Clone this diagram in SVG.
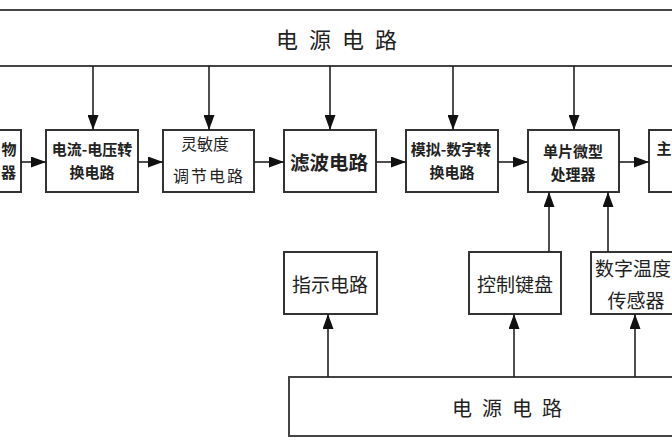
<svg xmlns="http://www.w3.org/2000/svg" width="672" height="448" viewBox="0 0 672 448">
<defs>
<marker id="ah" viewBox="0 0 15 11" refX="15" refY="5.5" markerWidth="15" markerHeight="11" markerUnits="userSpaceOnUse" orient="auto">
<path d="M0,0 L15,5.5 L0,11 z" fill="#111"/>
</marker>
<style>
.box{fill:#fff;stroke:#333;stroke-width:2}
.bar{fill:#fff;stroke:#444;stroke-width:2}
.t{font-family:"Noto Sans CJK SC","Noto Sans",sans-serif;fill:#222;text-anchor:middle;dominant-baseline:central}
.sm{font-size:15px;font-weight:bold}
.md{font-size:19px}
.bd{font-size:19.5px;font-weight:bold}
.lt{font-size:16px}
.big{font-size:22px;letter-spacing:11px}
.conn line{stroke:#222;stroke-width:1.6;marker-end:url(#ah)}
</style>
</defs>
<rect width="672" height="448" fill="#fff"/>

<g id="power-top">
<rect class="bar" x="-5" y="10" width="682" height="56"/>
<text class="t big" x="342" y="38">电源电路</text>
</g>

<g id="sensor-left">
<rect class="box" x="-20" y="130" width="41" height="62"/>
<text class="t sm" x="9" y="148">物</text>
<text class="t sm" x="8.5" y="171">器</text>
</g>

<g id="iv-convert">
<rect class="box" x="46" y="130" width="92" height="62"/>
<text class="t sm" x="92" y="148">电流-电压转</text>
<text class="t sm" x="92" y="171">换电路</text>
</g>

<g id="sensitivity">
<rect class="box" x="163" y="130" width="91" height="62"/>
<text class="t lt" x="205" y="143">灵敏度</text>
<text class="t lt" x="209" y="175" style="letter-spacing:2px">调节电路</text>
</g>

<g id="filter">
<rect class="box" x="284" y="130" width="92" height="62"/>
<text class="t bd" x="329" y="161">滤波电路</text>
</g>

<g id="adc">
<rect class="box" x="406" y="130" width="92" height="62"/>
<text class="t sm" x="451" y="148">模拟-数字转</text>
<text class="t sm" x="452" y="171">换电路</text>
</g>

<g id="mcu">
<rect class="box" x="528" y="130" width="91" height="62"/>
<text class="t sm" x="573" y="150">单片微型</text>
<text class="t sm" x="573" y="173">处理器</text>
</g>

<g id="main-right">
<rect class="box" x="649" y="130" width="40" height="62"/>
<text class="t sm" x="664" y="147">主</text>
</g>

<g id="indicator">
<rect class="box" x="284" y="252" width="93" height="62"/>
<text class="t md" x="330" y="283">指示电路</text>
</g>

<g id="keyboard">
<rect class="box" x="469" y="252" width="92" height="62"/>
<text class="t md" x="515" y="283">控制键盘</text>
</g>

<g id="temp-sensor">
<rect class="box" x="591" y="252" width="95" height="62"/>
<text class="t md" x="633" y="267">数字温度</text>
<text class="t md" x="636" y="299">传感器</text>
</g>

<g id="power-bottom">
<rect class="bar" x="289" y="377" width="400" height="59"/>
<text class="t big" x="512" y="407" style="font-size:20px;letter-spacing:10px">电源电路</text>
</g>

<g class="conn" id="connectors">
<line x1="93" y1="66" x2="93" y2="130"/>
<line x1="209" y1="66" x2="209" y2="130"/>
<line x1="330" y1="66" x2="330" y2="130"/>
<line x1="453" y1="66" x2="453" y2="130"/>
<line x1="574" y1="66" x2="574" y2="130"/>
<line x1="21" y1="162" x2="46" y2="162"/>
<line x1="138" y1="162" x2="163" y2="162"/>
<line x1="254" y1="162" x2="284" y2="162"/>
<line x1="376" y1="162" x2="406" y2="162"/>
<line x1="498" y1="162" x2="528" y2="162"/>
<line x1="619" y1="162" x2="649" y2="162"/>
<line x1="549" y1="252" x2="549" y2="192"/>
<line x1="608" y1="252" x2="608" y2="192"/>
<line x1="328" y1="377" x2="328" y2="314"/>
<line x1="514" y1="377" x2="514" y2="314"/>
<line x1="635" y1="377" x2="635" y2="314"/>
</g>
</svg>
